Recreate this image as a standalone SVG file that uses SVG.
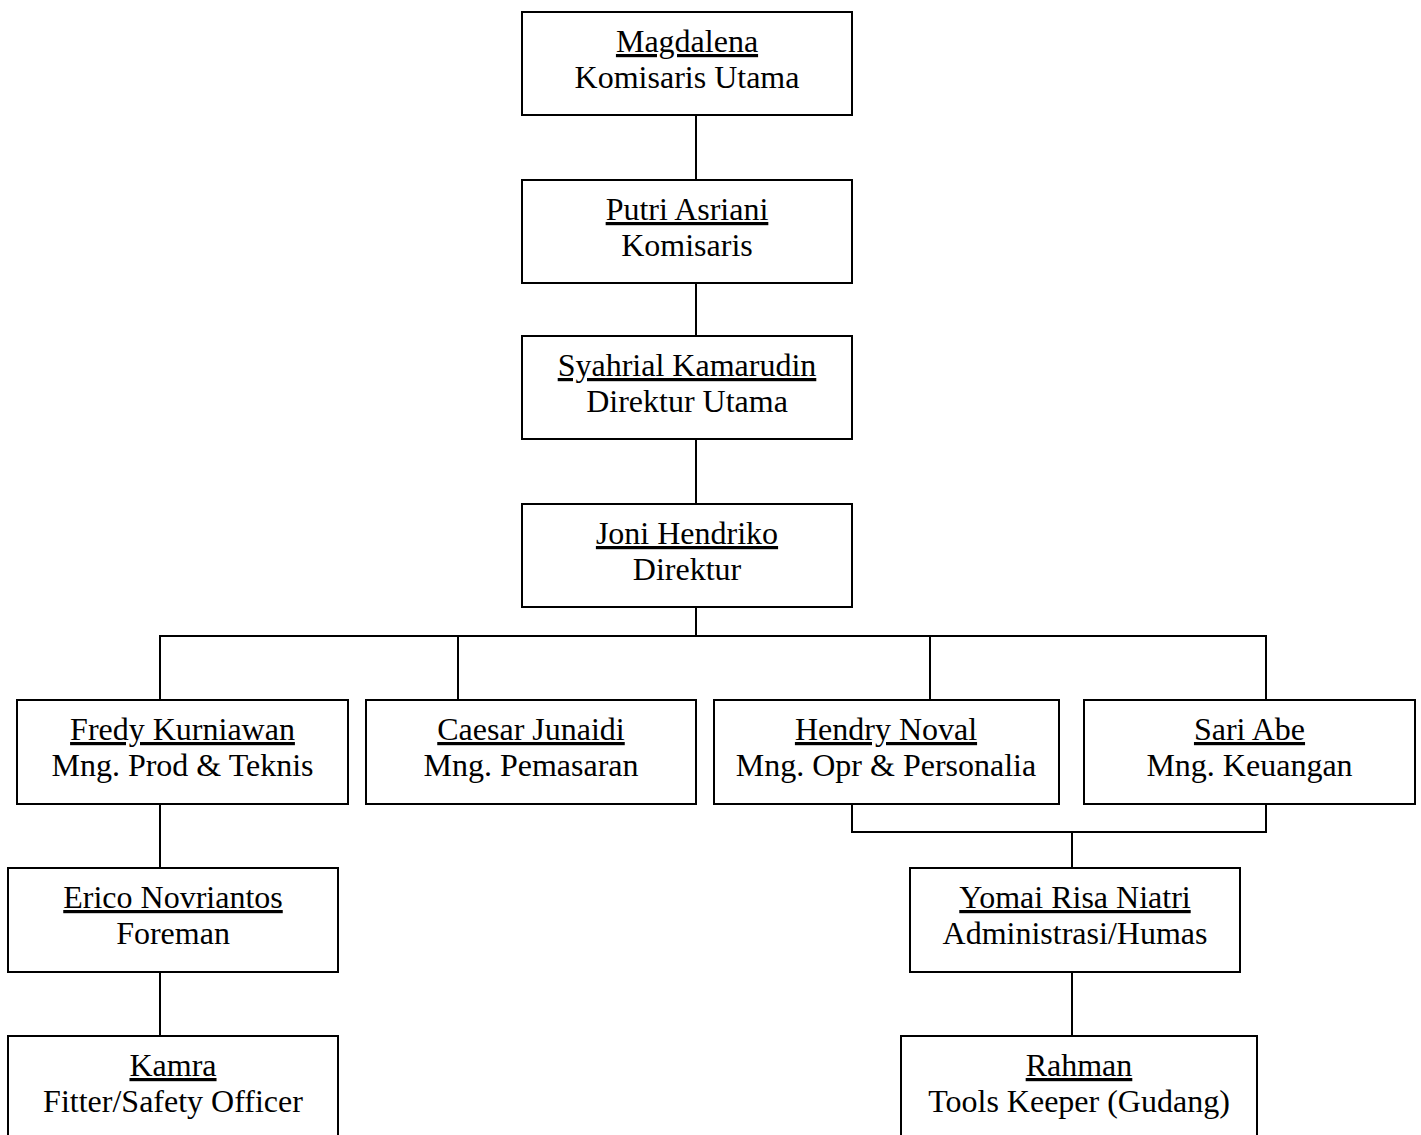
<svg xmlns="http://www.w3.org/2000/svg" width="1421" height="1135" viewBox="0 0 1421 1135">
<style>
.box{fill:#fff;stroke:#000;stroke-width:2}
.ln{fill:none;stroke:#000;stroke-width:2}
text{font-family:"Liberation Serif","Times New Roman",serif;font-size:32px;fill:#000;text-anchor:middle}
.nm{text-decoration:underline}
</style>
<rect width="1421" height="1135" fill="#fff"/>
<g id="connectors">
<line class="ln" x1="696" y1="115" x2="696" y2="180"/>
<line class="ln" x1="696" y1="283" x2="696" y2="336"/>
<line class="ln" x1="696" y1="439" x2="696" y2="504"/>
<line class="ln" x1="696" y1="607" x2="696" y2="636"/>
<polyline class="ln" points="160,700 160,636 1266,636 1266,700"/>
<line class="ln" x1="458" y1="636" x2="458" y2="700"/>
<line class="ln" x1="930" y1="636" x2="930" y2="700"/>
<line class="ln" x1="160" y1="804" x2="160" y2="868"/>
<line class="ln" x1="160" y1="972" x2="160" y2="1036"/>
<polyline class="ln" points="852,804 852,832 1266,832 1266,804"/>
<line class="ln" x1="1072" y1="832" x2="1072" y2="868"/>
<line class="ln" x1="1072" y1="972" x2="1072" y2="1036"/>
</g>
<g id="magdalena"><rect class="box" x="522" y="12" width="330" height="103"/><text class="nm" x="687" y="52">Magdalena</text><text x="687" y="88">Komisaris Utama</text></g>
<g id="putri"><rect class="box" x="522" y="180" width="330" height="103"/><text class="nm" x="687" y="220">Putri Asriani</text><text x="687" y="256">Komisaris</text></g>
<g id="syahrial"><rect class="box" x="522" y="336" width="330" height="103"/><text class="nm" x="687" y="376">Syahrial Kamarudin</text><text x="687" y="412">Direktur Utama</text></g>
<g id="joni"><rect class="box" x="522" y="504" width="330" height="103"/><text class="nm" x="687" y="544">Joni Hendriko</text><text x="687" y="580">Direktur</text></g>
<g id="fredy"><rect class="box" x="17" y="700" width="331" height="104"/><text class="nm" x="182.5" y="740">Fredy Kurniawan</text><text x="182.5" y="776">Mng. Prod &amp; Teknis</text></g>
<g id="caesar"><rect class="box" x="366" y="700" width="330" height="104"/><text class="nm" x="531" y="740">Caesar Junaidi</text><text x="531" y="776">Mng. Pemasaran</text></g>
<g id="hendry"><rect class="box" x="714" y="700" width="345" height="104"/><text class="nm" x="886" y="740">Hendry Noval</text><text x="886" y="776">Mng. Opr &amp; Personalia</text></g>
<g id="sari"><rect class="box" x="1084" y="700" width="331" height="104"/><text class="nm" x="1249.5" y="740">Sari Abe</text><text x="1249.5" y="776">Mng. Keuangan</text></g>
<g id="erico"><rect class="box" x="8" y="868" width="330" height="104"/><text class="nm" x="173" y="908">Erico Novriantos</text><text x="173" y="944">Foreman</text></g>
<g id="kamra"><rect class="box" x="8" y="1036" width="330" height="120"/><text class="nm" x="173" y="1076">Kamra</text><text x="173" y="1112">Fitter/Safety Officer</text></g>
<g id="yomai"><rect class="box" x="910" y="868" width="330" height="104"/><text class="nm" x="1075" y="908">Yomai Risa Niatri</text><text x="1075" y="944">Administrasi/Humas</text></g>
<g id="rahman"><rect class="box" x="901" y="1036" width="356" height="120"/><text class="nm" x="1079" y="1076">Rahman</text><text x="1079" y="1112">Tools Keeper (Gudang)</text></g>
</svg>
